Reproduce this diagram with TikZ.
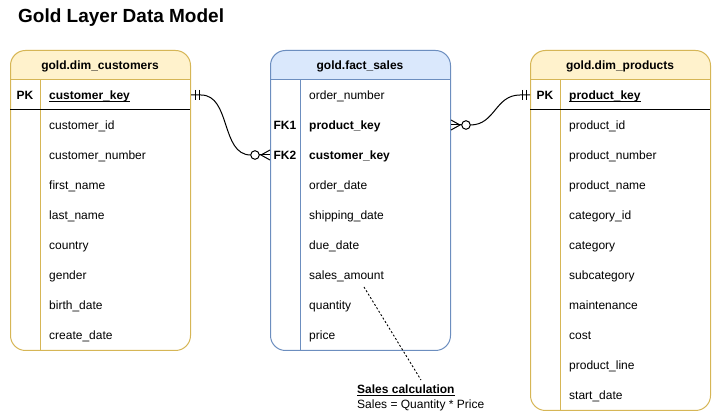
\documentclass[tikz,border=0pt]{standalone}
\usepackage{fontspec}
\setmainfont{Liberation Sans}
\usetikzlibrary{calc}
\definecolor{yfill}{HTML}{FFF2CC}
\definecolor{ystroke}{HTML}{D6B656}
\definecolor{bfill}{HTML}{DAE8FC}
\definecolor{bstroke}{HTML}{6C8EBF}
\newcommand\keyul[1]{\underline{\smash{#1}}}
\begin{document}
\begin{tikzpicture}[x=1pt,y=-1pt,
  txt/.style={font=\fontsize{12}{14}\selectfont, inner sep=0pt},
  field/.style={txt, anchor=base west},
  bfield/.style={field, font=\fontsize{12}{14}\selectfont\bfseries},
  keylbl/.style={txt, anchor=base, font=\fontsize{12}{14}\selectfont\bfseries},
  hdr/.style={txt, anchor=base, font=\fontsize{12}{14}\selectfont\bfseries},
  tbl/.style={rounded corners=15pt, line width=1pt, minimum width=180pt, inner sep=0pt, anchor=north west},
  conn/.style={line width=1pt, black},
  ermark/.style={line width=1pt, black},
  erzero/.style={line width=1pt, black, fill=white},
  notedash/.style={dash pattern=on 2pt off 2pt, line width=0.9pt, black}
]
\useasboundingbox (0,0) rectangle (713,411);

% Title
\node[txt, anchor=base west, font=\fontsize{19}{23}\selectfont\bfseries] (title) at (18,22.5) {Gold Layer Data Model};

% ===== dim_customers =====
\begin{scope}\clip (10,50) rectangle (190,80); \fill[yfill, rounded corners=15pt] (10,50) rectangle (190,120);\end{scope}
\node[tbl, draw=ystroke, minimum height=300pt] (cust) at (10,50) {};
\draw[ystroke, line width=1pt] (10,80) -- (190,80);
\draw[ystroke, line width=1pt] (40,80) -- (40,350);
\draw[black, line width=1pt] (10,110) -- (190,110);
\node[hdr] (custT) at (100,70) {gold.dim\_customers};
\node[keylbl] (custPK) at (25,100) {PK};
\node[bfield] (custkey) at (49,100) {\keyul{customer\_key}};
\foreach \t [count=\i] in {customer\_id, customer\_number, first\_name, last\_name, country, gender, birth\_date, create\_date}
  \node[field] (c\i) at (49,100+30*\i) {\t};

% ===== fact_sales =====
\begin{scope}\clip (270,50) rectangle (450,80); \fill[bfill, rounded corners=15pt] (270,50) rectangle (450,120);\end{scope}
\node[tbl, draw=bstroke, minimum height=300pt] (fact) at (270,50) {};
\draw[bstroke, line width=1pt] (270,80) -- (450,80);
\draw[bstroke, line width=1pt] (300,80) -- (300,350);
\node[hdr] (factT) at (360,70) {gold.fact\_sales};
\node[field] (f1) at (309,100) {order\_number};
\node[keylbl] (fk1) at (285,130) {FK1};
\node[bfield] (f2) at (309,130) {product\_key};
\node[keylbl] (fk2) at (285,160) {FK2};
\node[bfield] (f3) at (309,160) {customer\_key};
\node[field] (f4) at (309,190) {order\_date};
\node[field] (f5) at (309,220) {shipping\_date};
\node[field] (f6) at (309,250) {due\_date};
\node[field] (salesamt) at (309,280) {sales\_amount};
\node[field] (f8) at (309,310) {quantity};
\node[field] (f9) at (309,340) {price};

% ===== dim_products =====
\begin{scope}\clip (530,50) rectangle (710,80); \fill[yfill, rounded corners=15pt] (530,50) rectangle (710,120);\end{scope}
\node[tbl, draw=ystroke, minimum height=360pt] (prod) at (530,50) {};
\draw[ystroke, line width=1pt] (530,80) -- (710,80);
\draw[ystroke, line width=1pt] (560,80) -- (560,410);
\draw[black, line width=1pt] (530,110) -- (710,110);
\node[hdr] (prodT) at (620,70) {gold.dim\_products};
\node[keylbl] (prodPK) at (545,100) {PK};
\node[bfield] (prodkey) at (569,100) {\keyul{product\_key}};
\foreach \t [count=\i] in {product\_id, product\_number, product\_name, category\_id, category, subcategory, maintenance, cost, product\_line, start\_date}
  \node[field] (p\i) at (569,100+30*\i) {\t};

% ===== connector customers -> fact (customer_key) =====
\coordinate (a) at (cust.east |- 0,95);
\coordinate (b) at (fact.west |- 0,155);
\draw[conn] (a) -- ++(10,0) .. controls +(30,0) and +(-30,0) .. ($(b)+(-19.3,0)$);
\draw[conn] ($(b)+(-10.7,0)$) -- (b);
\draw[ermark] ($(a)+(4,-5)$) -- ++(0,10);
\draw[ermark] ($(a)+(8,-5)$) -- ++(0,10);
\draw[ermark] ($(b)+(0,-5)$) -- ($(b)+(-9,0)$) -- ($(b)+(0,5)$);
\draw[erzero] ($(b)+(-15,0)$) circle (4.3pt);

% ===== connector fact -> products (product_key) =====
\coordinate (c) at (fact.east |- 0,125);
\coordinate (d) at (prod.west |- 0,95);
\draw[conn] ($(c)+(19.3,0)$) .. controls +(25,0) and +(-25,0) .. ($(d)+(-10,0)$) -- (d);
\draw[conn] (c) -- ($(c)+(10.7,0)$);
\draw[ermark] ($(d)+(-8,-5)$) -- ++(0,10);
\draw[ermark] ($(d)+(-4,-5)$) -- ++(0,10);
\draw[ermark] ($(c)+(0,-5)$) -- ($(c)+(9,0)$) -- ($(c)+(0,5)$);
\draw[erzero] ($(c)+(15,0)$) circle (4.3pt);

% ===== note =====
\node[txt, anchor=base west, font=\fontsize{12}{15}\selectfont\bfseries] (notetitle) at (357,393.5) {\underline{Sales calculation}};
\node[txt, anchor=base west, font=\fontsize{12}{15}\selectfont] (notebody) at (357,408.5) {Sales = Quantity * Price};
\coordinate (dstart) at (364,287);
\coordinate (dend) at (421,380);
\draw[notedash] (dstart) -- (dend);
\end{tikzpicture}
\end{document}
